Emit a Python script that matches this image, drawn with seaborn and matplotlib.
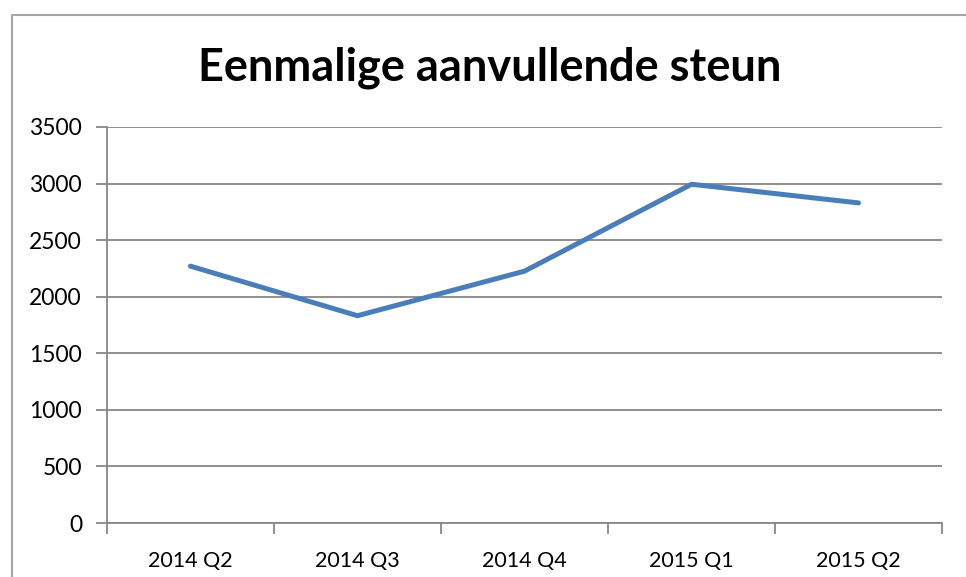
import matplotlib
matplotlib.use("Agg")
import matplotlib.pyplot as plt
import seaborn as sns
import pandas as pd

# data
quarters = ["2014 Q2", "2014 Q3", "2014 Q4", "2015 Q1", "2015 Q2"]
counts = [2270, 1832, 2226, 2994, 2829]
y_ticks = [0, 500, 1000, 1500, 2000, 2500, 3000, 3500]
title = "Eenmalige aanvullende steun"

sns.set_theme(style="white")
plt.rcParams["font.family"] = ["Lato", "DejaVu Sans"]

grid_grey = "#878787"
frame_grey = "#A6A6A6"
line_blue = "#4A7EBB"

df = pd.DataFrame({"kwartaal": quarters, "aantal": counts})

W, H = 966, 577
fig = plt.figure(figsize=(W / 100, H / 100), dpi=100)
ax = fig.add_axes([107 / W, 1 - 523 / H, (942 - 107) / W, (523 - 127) / H])

sns.lineplot(data=df, x="kwartaal", y="aantal", ax=ax, color=line_blue,
             lw=3.6, sort=False, solid_capstyle="round", solid_joinstyle="round")

ax.set_xlim(-0.5, len(quarters) - 0.5)
ax.set_ylim(y_ticks[0], y_ticks[-1])
ax.set_yticks(y_ticks)
ax.set_yticklabels([str(v) for v in y_ticks])

# category boundaries as tick marks, labels centred in between
ax.set_xticks([i - 0.5 for i in range(len(quarters) + 1)])
ax.set_xticklabels([""] * (len(quarters) + 1))
ax.set_xticks(range(len(quarters)), minor=True)
ax.set_xticklabels(quarters, minor=True)
ax.tick_params(axis="x", which="major", length=8, width=1.3, color=grid_grey,
               direction="out", bottom=True)
ax.tick_params(axis="x", which="minor", length=0, pad=20, labelsize=15.5,
               labelcolor="black")
ax.tick_params(axis="y", length=8, width=1.3, color=grid_grey, direction="out",
               left=True, pad=10, labelsize=16.5, labelcolor="black")

ax.yaxis.grid(True, color=grid_grey, lw=1.3)
ax.xaxis.grid(False)
ax.set_axisbelow(True)
for side in ["top", "right"]:
    ax.spines[side].set_visible(False)
for side in ["left", "bottom"]:
    ax.spines[side].set_color(grid_grey)
    ax.spines[side].set_linewidth(1.3)
ax.set_xlabel("")
ax.set_ylabel("")

# chart area frame (left and top edges visible)
fig.add_artist(plt.Line2D([12 / W, 12 / W, 1.01], [-0.01, 1 - 15 / H, 1 - 15 / H],
                          transform=fig.transFigure, color=frame_grey, lw=1.5))

fig.text(490 / W, 1 - 68 / H, title, ha="center", va="center",
         fontsize=32.5, fontweight="bold", color="black")

fig.savefig("out.png", dpi=100)
